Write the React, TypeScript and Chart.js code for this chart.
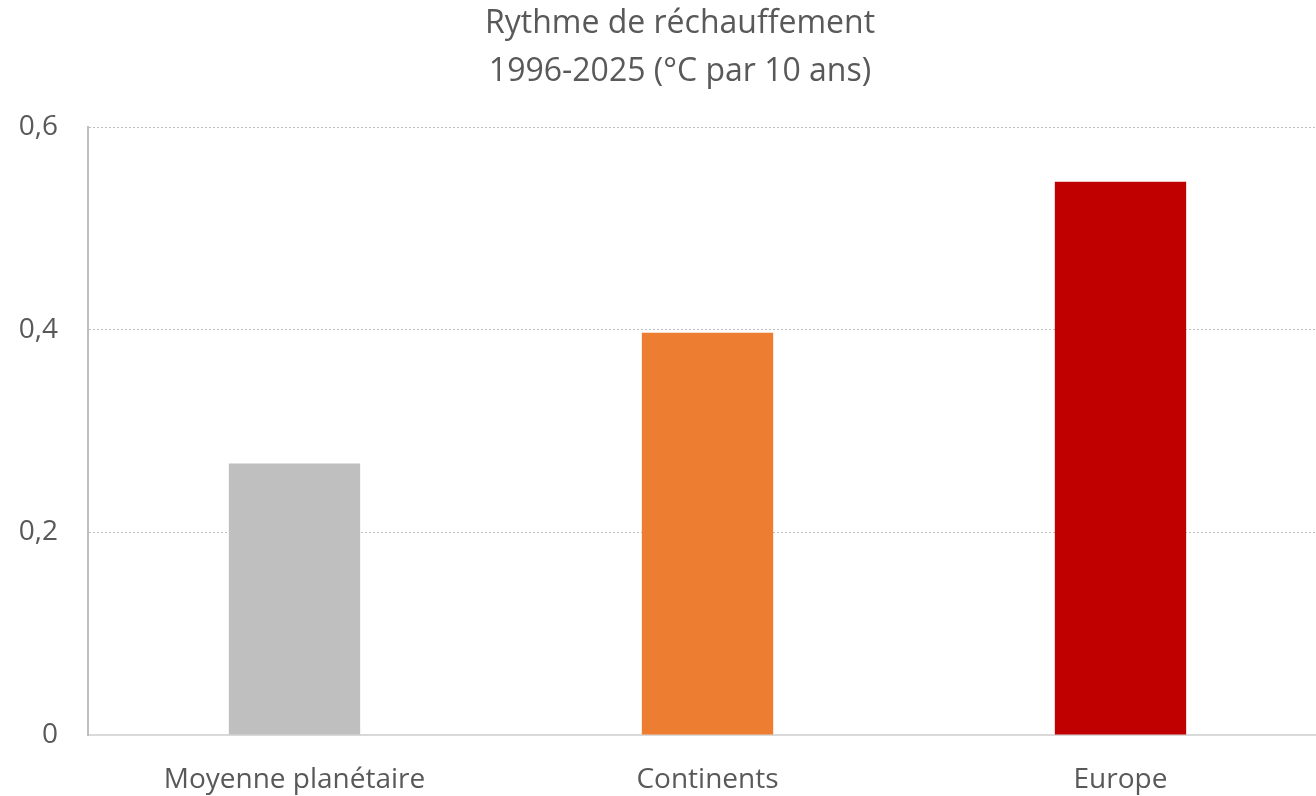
import React, { useEffect, useRef } from "react";
import { Chart, registerables } from "chart.js";

Chart.register(...registerables);

const titleLines = ["Rythme de réchauffement", "1996-2025 (°C par 10 ans)"];
const categories = ["Moyenne planétaire", "Continents", "Europe"];
const values = [0.268, 0.397, 0.546];
const barColors = ["#BFBFBF", "#ED7D31", "#C00000"];
const yTicks = [0, 0.2, 0.4, 0.6];

export default function App() {
  const ref = useRef<HTMLCanvasElement | null>(null);
  useEffect(() => {
    if (!ref.current) return;
    const font = "'Open Sans', sans-serif";
    const titlePlugin = {
      id: "customTitle",
      afterDraw(chart: any) {
        const ctx = chart.ctx;
        ctx.save();
        ctx.fillStyle = "#595959";
        ctx.font = `32px ${font}`;
        ctx.textAlign = "center";
        ctx.textBaseline = "middle";
        ctx.fillText(titleLines[0], 680, 24);
        ctx.fillText(titleLines[1], 680, 72);
        ctx.restore();
      },
    };
    const chart = new Chart(ref.current, {
      type: "bar",
      data: {
        labels: categories,
        datasets: [
          {
            data: values,
            backgroundColor: barColors,
            borderWidth: 0,
            categoryPercentage: 1,
            barPercentage: 0.318,
          },
        ],
      },
      plugins: [titlePlugin],
      options: {
        animation: false,
        responsive: false,
        maintainAspectRatio: false,
        layout: { padding: { left: 0, right: 3, top: 127, bottom: 0 } },
        plugins: {
          legend: { display: false },
          tooltip: { enabled: false },
          title: { display: false },
        },
        scales: {
          x: {
            grid: { display: false, drawTicks: false },
            border: { display: true, color: "#D9D9D9", width: 2 },
            afterFit: (scale: any) => {
              scale.height = 61;
            },
            ticks: {
              color: "#595959",
              font: { family: font, size: 28 },
              padding: 28,
            },
          },
          y: {
            min: 0,
            max: 0.6,
            afterBuildTicks: (scale: any) => {
              scale.ticks = yTicks.map((v) => ({ value: v }));
            },
            afterFit: (scale: any) => {
              scale.width = 88;
            },
            grid: {
              color: (ctx: any) => (ctx.tick && ctx.tick.value === 0 ? "rgba(0,0,0,0)" : "#BFBFBF"),
              drawTicks: false,
              lineWidth: 1,
            },
            border: { display: true, color: "#BFBFBF", width: 2, dash: [2, 2] },
            ticks: {
              color: "#595959",
              font: { family: font, size: 28 },
              padding: 30,
              callback: (v: any) => (v === 0 ? "0" : Number(v).toFixed(1).replace(".", ",")),
            },
          },
        },
      },
    });
    return () => chart.destroy();
  }, []);
  return (
    <div style={{ position: "fixed", left: 0, top: 0, width: 1316, height: 796, overflow: "hidden", background: "#fff" }}>
      <canvas ref={ref} width={1330} height={796} style={{ width: 1330, height: 796, display: "block" }} />
    </div>
  );
}
